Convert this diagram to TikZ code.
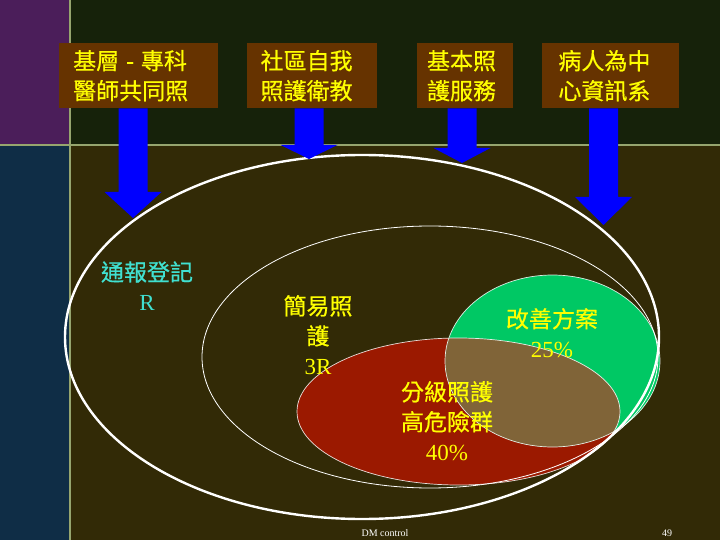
\documentclass[tikz,border=0pt]{standalone}
\usepackage{fontspec}
\setmainfont{Liberation Serif}
\newfontfamily\cjk[FakeBold=0.5]{Noto Sans CJK TC}
\usepackage{xcolor}
\usepackage{tikz}
\usetikzlibrary{positioning,calc}
\definecolor{bgmain}{RGB}{50,42,6}
\definecolor{bgtop}{RGB}{22,34,10}
\definecolor{bgside}{RGB}{15,45,70}
\definecolor{bgcorner}{RGB}{75,30,90}
\definecolor{rulecol}{RGB}{150,165,110}
\definecolor{boxbrown}{RGB}{102,51,0}
\definecolor{txtyel}{RGB}{255,255,0}
\definecolor{txtcyan}{RGB}{64,224,208}
\definecolor{setred}{RGB}{155,25,0}
\definecolor{setgreen}{RGB}{0,200,100}
\definecolor{setmix}{RGB}{128,100,56}
\definecolor{arrblue}{RGB}{0,0,255}
\newcommand{\outerset}{(362,337) ellipse [x radius=297, y radius=182]}
\newcommand{\innerset}{(430,357) ellipse [x radius=228, y radius=131]}
\newcommand{\redset}{(458.5,411.5) ellipse [x radius=161.5, y radius=73.5]}
\newcommand{\greenset}{(552.5,361) ellipse [x radius=107.5, y radius=86]}
\tikzset{
	every node/.style = { align = center, inner sep = 0pt },
	cjktxt/.style = { font = \cjk\fontsize{23}{30}\selectfont },
	src/.style = { cjktxt, fill=boxbrown, text=txtyel, align=left, inner xsep=14pt, minimum height=65pt, text width=#1 },
	lbl/.style = { cjktxt, text=txtyel },
	note/.style = { font=\fontsize{10}{12}\selectfont, text=white },
	arr/.style = { fill=arrblue },
}
% block arrow from a box down to a tip, #3 = head length
\newcommand{\blockarrow}[3]{%
	\fill[arr] let \p1=(#1.south), \p2=(#2) in
		(\x2-14.5pt,\y1) -- (\x2+14.5pt,\y1) -- (\x2+14.5pt,\y2+#3) -- (\x2+28.5pt,\y2+#3)
		-- (\x2,\y2) -- (\x2-28.5pt,\y2+#3) -- (\x2-14.5pt,\y2+#3) -- cycle;}

\begin{document}
\begin{tikzpicture}[x=1pt,y=-1pt]
\useasboundingbox (0,0) rectangle (720,540);
\fill[bgmain]   (0,0)   rectangle (720,540);
\fill[bgtop]    (70,0)  rectangle (720,145);
\fill[bgcorner] (0,0)   rectangle (70,145);
\fill[bgside]   (0,145) rectangle (70,540);
\draw[rulecol,line width=1.2pt] (70,0) -- (70,540);
\draw[rulecol,line width=1.2pt] (0,145) -- (720,145);

% the sets
\fill[setred]   \redset;
\fill[setgreen] \greenset;
\begin{scope}
	\clip \redset;
	\fill[setmix] \greenset;
\end{scope}
\draw[white,line width=0.8pt] \innerset;
\draw[white,opacity=0.85,line width=0.7pt] \redset;
\draw[white,opacity=0.85,line width=0.7pt] \greenset;
\draw[white,line width=2.4pt] \outerset;

% source boxes
\node (b1) [src=131pt,anchor=north west] at (59,43) {基層\hspace{0.3em}-\hspace{0.3em}專科\\醫師共同照};
\node (b2) [src=102pt,right=28pt of b1] {社區自我\\照護衛教};
\node (b3) [src=76pt,inner xsep=10pt,right=40pt of b2] {基本照\\護服務};
\node (b4) [src=105pt,inner xsep=16pt,right=29pt of b3] {病人為中\\心資訊系};

\coordinate (t1) at (133,218);
\coordinate (t2) at (309,159);
\coordinate (t3) at (462,163);
\coordinate (t4) at (603.5,225);
\blockarrow{b1}{t1}{26pt}
\blockarrow{b2}{t2}{14pt}
\blockarrow{b3}{t3}{15pt}
\blockarrow{b4}{t4}{28pt}

% labels
\node (rep)   [lbl,text=txtcyan] at (147,286) {通報登記\\{\rmfamily R}};
\node (easy)  [lbl] at (318,335) {簡易照\\護\\{\rmfamily 3R}};
\node (plan)  [lbl] at (552,333) {改善方案\\{\rmfamily 25\%}};
\node (grade) [lbl] at (447,421) {分級照護\\高危險群\\{\rmfamily 40\%}};

\node (foot) [note] at (385,533) {DM control};
\node (page) [note] at (667,533) {49};
\end{tikzpicture}
\end{document}
